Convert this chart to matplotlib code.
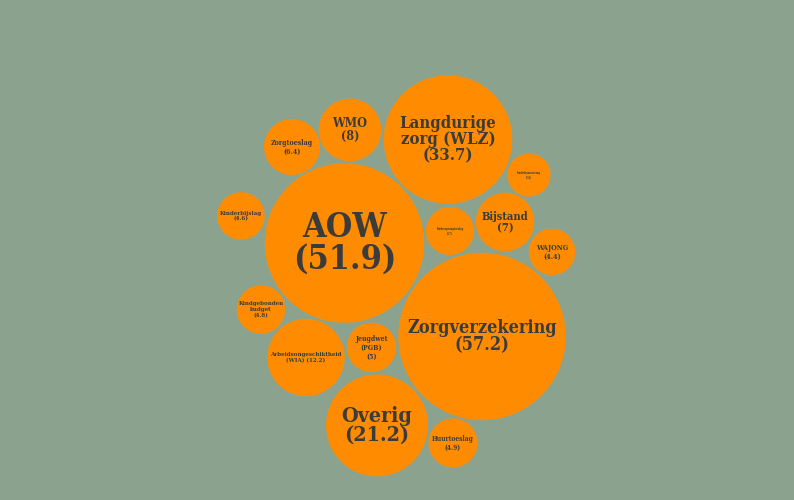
import numpy as np
import matplotlib
matplotlib.use("Agg")
import matplotlib.pyplot as plt
from matplotlib.patches import Circle

# Data (billions of euros)
labels = ["AOW", "Zorgverzekering", "Langdurige\nzorg (WLZ)", "Overig",
          "Arbeidsongeschiktheid\n(WIA)", "WMO", "Bijstand", "Zorgtoeslag",
          "Jeugdwet\n(PGB)", "Huurtoeslag", "Kindgebonden\nbudget",
          "Kinderopvangtoeslag", "Kinderbijslag", "WAJONG", "Studiefinanciering"]
values = [51.9, 57.2, 33.7, 21.2, 12.2, 8, 7, 6.4, 5, 4.9, 4.8, 4.7, 4.6, 4.4, 3.8]
value_sep = ["\n", "\n", "\n", "\n", " ", "\n", "\n", "\n", "\n", "\n", "\n", "\n", "\n", "\n", "\n"]

# Layout (packed-bubble centres, pixel space) and label styling
centre_x = [344.5, 482, 448, 377, 306, 350, 505, 292, 371.5, 453, 261, 450, 241, 552, 529]
centre_y = [243, 336.5, 139.5, 425.5, 357.5, 130, 222, 147, 347.5, 443, 309.5, 231, 216, 252, 175]
font_pt = [24.5, 13, 12, 15.4, 4.4, 9, 8, 5.0, 5.0, 4.8, 4.4, 1.8, 4.4, 5.2, 1.8]

BG = "#8ba38e"
ORANGE = "#ff8c00"
TXT = "#3b3b3b"
k = 11.07  # sqrt radius scale (px per sqrt(unit))

fig = plt.figure(figsize=(7.94, 5.0), dpi=100, facecolor=BG)
ax = fig.add_axes([0, 0, 1, 1])
ax.set_facecolor(BG)
ax.set_xlim(0, 794)
ax.set_ylim(500, 0)
ax.set_aspect("equal")
ax.axis("off")

for lab, v, sep, x, y, fs in zip(labels, values, value_sep, centre_x, centre_y, font_pt):
    r = k * np.sqrt(v)
    ax.add_patch(Circle((x, y), r, facecolor=ORANGE, edgecolor="none"))
    vs = f"{v:g}"
    text = f"{lab}{sep}({vs})"
    ax.text(x, y, text, ha="center", va="center", multialignment="center",
            fontsize=fs, family="DejaVu Serif", fontweight="bold",
            fontstretch="condensed", color=TXT,
            linespacing=0.95 if fs > 7 else 1.15)

fig.savefig("out.png", dpi=100, facecolor=BG)
